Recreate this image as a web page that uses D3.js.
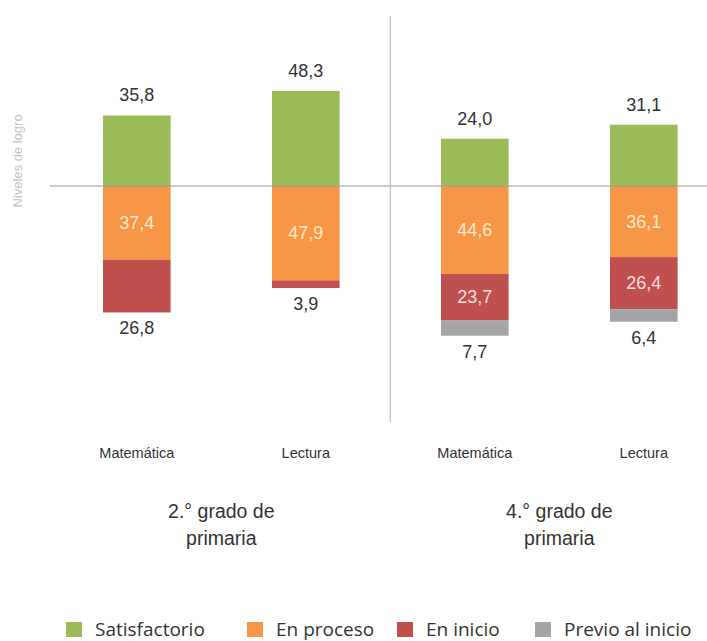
<!DOCTYPE html>
<html>
<head>
<meta charset="utf-8">
<script src="https://cdn.jsdelivr.net/npm/d3@7"></script>
<style>
  html, body { margin: 0; padding: 0; background: #fff; }
  svg { display: block; }
</style>
</head>
<body>
<div id="chart"></div>
<script>
const categories = ["Matemática", "Lectura", "Matemática", "Lectura"];
const groupLabels = [["2.° grado de", "primaria"], ["4.° grado de", "primaria"]];
const seriesNames = ["Satisfactorio", "En proceso", "En inicio", "Previo al inicio"];
const satisfactorio = [35.8, 48.3, 24.0, 31.1];
const enProceso = [37.4, 47.9, 44.6, 36.1];
const enInicio = [26.8, 3.9, 23.7, 26.4];
const previoInicio = [0, 0, 7.7, 6.4];
const colors = ["#9bbb59", "#f79646", "#c0504d", "#a5a5a8"];
const yTitle = "Niveles de logro";

const W = 707, H = 641;
const baseY = 186, k = 1.97;
const FONT = "Arial, 'Liberation Sans', sans-serif";
const fmt = v => v.toFixed(1).replace(".", ",");

const svg = d3.select("#chart").append("svg").attr("width", W).attr("height", H);

const x = d3.scaleBand().domain(d3.range(categories.length))
  .range([52.3, 728.3]).paddingInner(0.6).paddingOuter(0.3);
const y = d3.scaleLinear().domain([-100, 100]).range([baseY + 100 * k, baseY - 100 * k]);

const below = [enProceso, enInicio, previoInicio];

const segs = [];
categories.forEach((c, i) => {
  segs.push({ i, s: 0, y0: 0, y1: satisfactorio[i], v: satisfactorio[i], pos: "top" });
  let acc = 0;
  const nonzero = below.map((arr, j) => arr[i] > 0 ? j : -1).filter(j => j >= 0);
  const last = nonzero[nonzero.length - 1];
  below.forEach((arr, j) => {
    const v = arr[i];
    if (v > 0) {
      segs.push({ i, s: j + 1, y0: -acc, y1: -(acc + v), v, pos: j === last ? "bottom" : "inside" });
    }
    acc += v;
  });
});

svg.append("g").selectAll("rect").data(segs).join("rect")
  .attr("x", d => x(d.i))
  .attr("width", x.bandwidth())
  .attr("y", d => y(Math.max(d.y0, d.y1)))
  .attr("height", d => Math.abs(y(d.y0) - y(d.y1)))
  .attr("fill", d => colors[d.s]);

svg.append("line").attr("x1", 50).attr("x2", W).attr("y1", y(0)).attr("y2", y(0))
  .attr("stroke", "#9a9a9a").attr("stroke-width", 1.2);
const divX = (x(1) + x.bandwidth() + x(2)) / 2;
svg.append("line").attr("x1", divX).attr("x2", divX).attr("y1", 16).attr("y2", 422)
  .attr("stroke", "#bdbdbd").attr("stroke-width", 1.2);

const lab = svg.append("g").attr("font-family", FONT)
  .attr("font-size", 18).attr("text-anchor", "middle");
segs.forEach(d => {
  const cx = x(d.i) + x.bandwidth() / 2;
  let ty, fill;
  if (d.pos === "top") { ty = y(d.y1) - 14; fill = "#333"; }
  else if (d.pos === "bottom") { ty = y(d.y1) + 22; fill = "#333"; }
  else { ty = (y(d.y0) + y(d.y1)) / 2 + 6; fill = d.s === 1 ? "#fde8cc" : "#f8dede"; }
  lab.append("text").attr("x", cx).attr("y", ty).attr("fill", fill).text(fmt(d.v));
});

svg.append("g").selectAll("text").data(categories).join("text")
  .attr("x", (d, i) => x(i) + x.bandwidth() / 2)
  .attr("y", 458)
  .attr("text-anchor", "middle")
  .attr("font-family", FONT)
  .attr("font-size", 14.5).attr("fill", "#333")
  .text(d => d);

groupLabels.forEach((lines, g) => {
  const cx = (x(2 * g) + x(2 * g + 1) + x.bandwidth()) / 2;
  lines.forEach((t, li) => {
    svg.append("text").attr("x", cx).attr("y", 518 + li * 27)
      .attr("text-anchor", "middle")
      .attr("font-family", FONT)
      .attr("font-size", 19.5).attr("fill", "#333").text(t);
  });
});

svg.append("text").attr("transform", "translate(22,161) rotate(-90)")
  .attr("text-anchor", "middle")
  .attr("font-family", FONT)
  .attr("font-size", 13).attr("fill", "#c4c4c4").text(yTitle);

const legX = [66, 247, 397, 535];
const leg = svg.append("g");
seriesNames.forEach((n, i) => {
  leg.append("rect").attr("x", legX[i]).attr("y", 622).attr("width", 16).attr("height", 15)
    .attr("fill", colors[i]);
  leg.append("text").attr("x", legX[i] + 29).attr("y", 636)
    .attr("font-family", "'Open Sans', sans-serif")
    .attr("font-size", 19).attr("fill", "#333").text(n);
});
</script>
</body>
</html>
